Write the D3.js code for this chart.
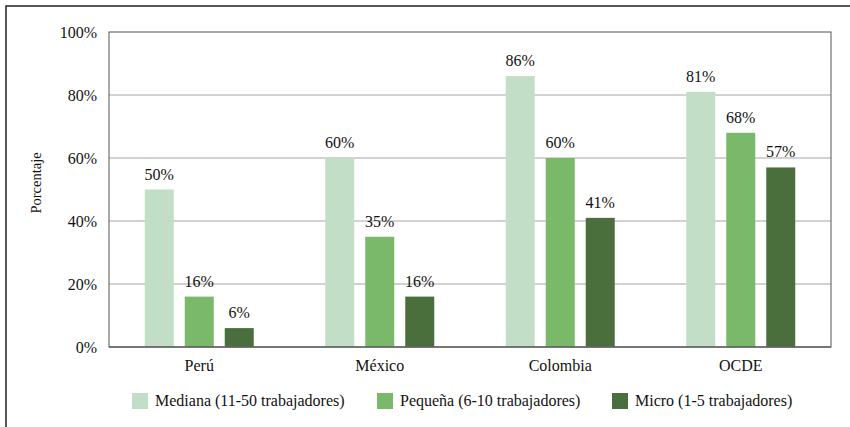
<!DOCTYPE html>
<html>
<head>
<meta charset="utf-8">
<script src="https://cdn.jsdelivr.net/npm/d3@7"></script>
<style>
  html, body { margin: 0; padding: 0; background: #fff; }
</style>
</head>
<body>
<svg id="chart" width="850" height="427"></svg>
<script>
const categories = ["Perú", "México", "Colombia", "OCDE"];
const seriesNames = ["Mediana (11-50 trabajadores)", "Pequeña (6-10 trabajadores)", "Micro (1-5 trabajadores)"];
const mediana = [50, 60, 86, 81];
const pequena = [16, 35, 60, 68];
const micro = [6, 16, 41, 57];
const yTicks = [0, 20, 40, 60, 80, 100];
const colors = ["#c3dec7", "#7ab96a", "#4a6e3c"];

const seriesValues = [mediana, pequena, micro];
const FONT = "'Liberation Serif', 'Times New Roman', Times, serif";

const svg = d3.select("#chart");
const width = 850, height = 427;
const margin = { left: 109, top: 32, right: 19, bottom: 80 };
const plotW = width - margin.left - margin.right;
const plotH = height - margin.top - margin.bottom;

// marco exterior
svg.append("rect")
  .attr("x", 6).attr("y", 6)
  .attr("width", 850).attr("height", 430)
  .attr("fill", "none")
  .attr("stroke", "#222")
  .attr("stroke-width", 1.5);

const g = svg.append("g").attr("transform", `translate(${margin.left},${margin.top})`);

const x0 = d3.scaleBand().domain(categories).range([0, plotW]).padding(0);
const x1 = d3.scaleBand().domain(d3.range(3)).range([0, x0.bandwidth()])
  .paddingInner(0.275).paddingOuter(0.894);
const y = d3.scaleLinear().domain([0, 100]).range([plotH, 0]);

// líneas de cuadrícula
g.append("g")
  .selectAll("line")
  .data(yTicks.filter(t => t > 0 && t < 100))
  .join("line")
  .attr("x1", 0).attr("x2", plotW)
  .attr("y1", d => y(d)).attr("y2", d => y(d))
  .attr("stroke", "#a6a6a6")
  .attr("stroke-width", 1);

// eje y
const yAxis = g.append("g")
  .call(d3.axisLeft(y).tickValues(yTicks).tickSize(0).tickPadding(12).tickFormat(d => d + "%"));
yAxis.attr("font-family", null).attr("font-size", null);
yAxis.select(".domain").remove();
yAxis.selectAll("text").attr("dy", "0.32em");

// barras
const groups = g.append("g")
  .selectAll("g")
  .data(categories)
  .join("g")
  .attr("transform", d => `translate(${x0(d)},0)`);

groups.selectAll("rect")
  .data((d, i) => seriesValues.map((vals, s) => ({ s, v: vals[i] })))
  .join("rect")
  .attr("x", d => x1(d.s))
  .attr("y", d => y(d.v))
  .attr("width", x1.bandwidth())
  .attr("height", d => plotH - y(d.v))
  .attr("fill", d => colors[d.s]);

groups.selectAll("text.val")
  .data((d, i) => seriesValues.map((vals, s) => ({ s, v: vals[i] })))
  .join("text")
  .attr("class", "val")
  .attr("x", d => x1(d.s) + x1.bandwidth() / 2)
  .attr("y", d => y(d.v) - 10)
  .attr("text-anchor", "middle")
  .text(d => d.v + "%");

// marco del área de trazado
g.append("rect")
  .attr("x", 0).attr("y", 0)
  .attr("width", plotW).attr("height", plotH)
  .attr("fill", "none")
  .attr("stroke", "#555")
  .attr("stroke-width", 1);
g.append("line")
  .attr("x1", 0).attr("x2", plotW)
  .attr("y1", plotH).attr("y2", plotH)
  .attr("stroke", "#666").attr("stroke-width", 1.5);

// eje x
g.append("g")
  .selectAll("text")
  .data(categories)
  .join("text")
  .attr("x", d => x0(d) + x1(1) + x1.bandwidth() / 2)
  .attr("y", plotH + 24)
  .attr("text-anchor", "middle")
  .text(d => d);

// título eje y
svg.append("text")
  .attr("transform", "translate(41,183) rotate(-90)")
  .attr("text-anchor", "middle")
  .attr("class", "ytitle")
  .text("Porcentaje");

// leyenda
const legendX = [132, 377, 612];
const legend = svg.append("g")
  .selectAll("g")
  .data(seriesNames)
  .join("g")
  .attr("transform", (d, i) => `translate(${legendX[i]},393)`);
legend.append("rect")
  .attr("width", 16).attr("height", 16)
  .attr("fill", (d, i) => colors[i]);
legend.append("text")
  .attr("x", 23).attr("y", 13)
  .text(d => d);

svg.selectAll("text")
  .style("font-family", FONT)
  .style("font-size", "16px")
  .style("fill", "#111");
svg.select("text.ytitle").style("font-size", "14.5px");
</script>
</body>
</html>
